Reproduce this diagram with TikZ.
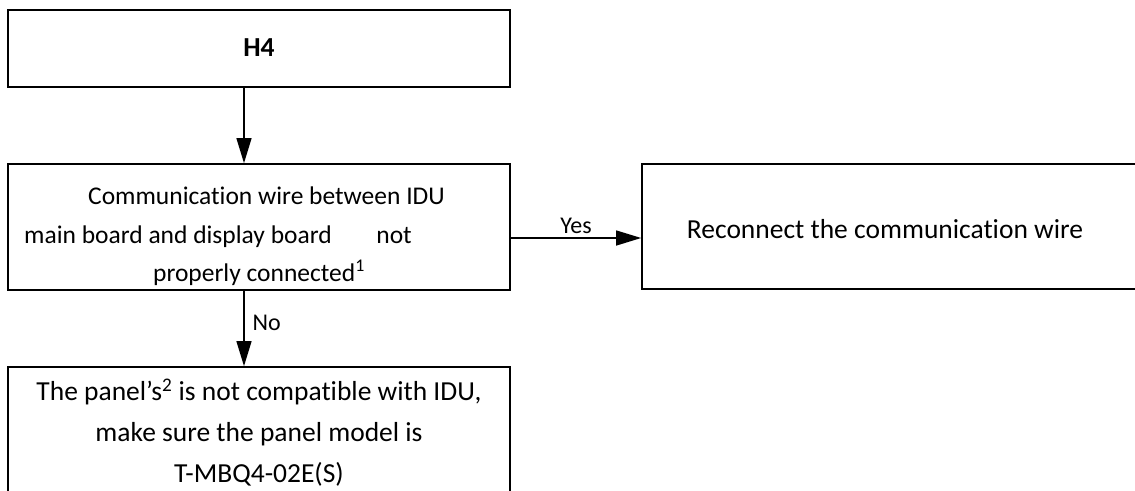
\documentclass[tikz,border=0pt]{standalone}
\usepackage{fontspec}
\setmainfont{Carlito}[Ligatures=NoCommon]
\usetikzlibrary{arrows.meta,calc}
\tikzset{
  flowbox/.style={draw=black, line width=1.7pt, minimum width=502pt, inner sep=0pt, align=center},
  conn/.style={line width=1.3pt, -{Triangle[length=25pt,width=15pt]}},
  txt/.style={inner sep=0pt, align=center, font=\fontsize{27.5}{41}\selectfont},
  qtxt/.style={inner sep=0pt, font=\fontsize{25.5}{39}\selectfont},
  smalltxt/.style={inner sep=0pt, font=\fontsize{24}{30}\selectfont},
}
\begin{document}
\begin{tikzpicture}[x=1pt,y=-1pt]
\clip (0,0) rectangle (1135,490);
\fill[white] (0,0) rectangle (1135,490);
% boxes
\node[flowbox, minimum height=77pt] (h4) at (259,48.5) {};
\node[txt, font=\fontsize{27.5}{41}\selectfont\bfseries] (h4t) at (259,48) {H4};
\node[flowbox, minimum height=126pt] (q) at (259,227) {};
\node[qtxt, anchor=base west] (q1) at (88,204) {Communication wire between IDU};
\node[qtxt, anchor=base west] (q2) at (24,243) {main board and display board};
\node[qtxt, anchor=base east] (q2b) at (412,243) {not};
\node[qtxt, anchor=base] (q3) at (259,281) {properly connected\textsuperscript{1}};
\node[flowbox, minimum width=520pt, minimum height=125pt] (r) at (902,226.5) {};
\node[txt] (rt) at (885,229) {Reconnect the communication wire};
\node[flowbox, minimum height=132pt] (p) at (259,433) {};
\node[txt] (pt) at (259,433) {The panel's\textsuperscript{2} is not compatible with IDU,\\
  make sure the panel model is\\
  T-MBQ4-02E(S)};
% connectors
\draw[conn] (h4.south -| 244,0) -- (q.north -| 244,0);
\draw[conn] (q.east |- 0,238) -- node[smalltxt, above=4pt] (yes) {Yes} (r.west |- 0,238);
\draw[conn] (q.south -| 244,0) -- node[smalltxt, right=8pt, pos=0.42] (no) {No} (p.north -| 244,0);
\end{tikzpicture}
\end{document}
